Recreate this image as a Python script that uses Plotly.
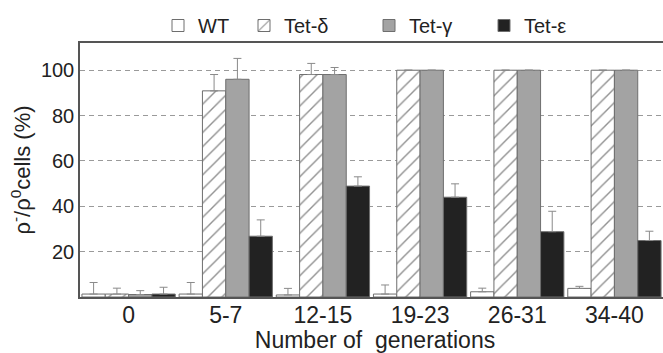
import plotly.graph_objects as go

categories = ["0", "5-7", "12-15", "19-23", "26-31", "34-40"]

wt = [1.3, 1.3, 0.9, 1.3, 2.3, 3.8]
wt_err = [5.1, 5.1, 2.9, 4.0, 1.6, 0.9]

tet_d = [1.3, 90.9, 98.1, 100, 100, 100]
tet_d_err = [2.6, 7.2, 4.9, None, None, None]

tet_g = [1.1, 96.0, 98.1, 100, 100, 100]
tet_g_err = [1.7, 9.2, 3.1, None, None, None]

tet_e = [1.3, 26.8, 48.9, 44.0, 28.8, 24.9]
tet_e_err = [3.0, 7.2, 4.1, 5.9, 9.0, 4.1]

series_names = ["WT", "Tet-δ", "Tet-γ", "Tet-ε"]
y_ticks = [20, 40, 60, 80, 100]

FONT = "Arial, Liberation Sans, sans-serif"
TXT = "#222222"
OUTLINE = "#6e6e6e"
ERRC = "#8a8a8a"

# figure is slightly wider than the 663px window so the plot's right edge
# (which is cut off in the reference) falls outside the view
W, H = 670, 353
ML, MR, MT, MB = 80, 0, 43, 56
PW = W - ML - MR
PH = H - MT - MB
CAT_PX = 583 / 6.0  # pixel width of one category slot
X_MAX = -0.5 + PW / CAT_PX


def err(arr):
    return dict(type="data", symmetric=False, array=arr,
                arrayminus=[0 if v is not None else None for v in arr],
                color=ERRC, thickness=1, width=4)


fig = go.Figure()
fig.add_trace(go.Bar(x=categories, y=wt, name=series_names[0], legend="legend",
                     showlegend=True,
                     marker=dict(color="white", line=dict(color=OUTLINE, width=1)),
                     error_y=err(wt_err)))
fig.add_trace(go.Bar(x=categories, y=tet_d, name=series_names[1], legend="legend2",
                     showlegend=True,
                     marker=dict(color="white", line=dict(color=OUTLINE, width=1),
                                 pattern=dict(shape="/", size=10, solidity=0.14,
                                              fgcolor="#222222", bgcolor="white",
                                              fillmode="overlay")),
                     error_y=err(tet_d_err)))
fig.add_trace(go.Bar(x=categories, y=tet_g, name=series_names[2], legend="legend3",
                     showlegend=True,
                     marker=dict(color="#a3a3a3", line=dict(color=OUTLINE, width=1)),
                     error_y=err(tet_g_err)))
fig.add_trace(go.Bar(x=categories, y=tet_e, name=series_names[3], legend="legend4",
                     showlegend=True,
                     marker=dict(color="#222222", line=dict(color=OUTLINE, width=1)),
                     error_y=err(tet_e_err)))


def px_to_paper_x(px):
    return (px - ML) / PW


def px_to_paper_y(py):
    return (H - MB - py) / PH


leg_y = px_to_paper_y(25.5)
leg_common = dict(orientation="h", yanchor="middle", xanchor="left", y=leg_y,
                  font=dict(family=FONT, size=20, color=TXT),
                  bgcolor="rgba(0,0,0,0)", borderwidth=0)

fig.update_layout(
    width=W, height=H,
    margin=dict(l=ML, r=MR, t=MT, b=MB, autoexpand=False),
    paper_bgcolor="white", plot_bgcolor="white",
    barmode="group", bargap=0.04, bargroupgap=0,
    showlegend=True,
    font=dict(family=FONT, color=TXT),
    legend=dict(x=px_to_paper_x(158), **leg_common),
    legend2=dict(x=px_to_paper_x(244), **leg_common),
    legend3=dict(x=px_to_paper_x(369), **leg_common),
    legend4=dict(x=px_to_paper_x(484), **leg_common),
)

fig.update_xaxes(
    range=[-0.5, X_MAX], showline=True, linecolor="#555555", linewidth=1.5,
    mirror=True, ticks="", showgrid=False, zeroline=False,
    ticklabelstandoff=-3,
    tickfont=dict(family=FONT, size=23, color=TXT),
    title=dict(text="Number of\u00a0\u00a0generations", standoff=3,
               font=dict(family=FONT, size=23, color=TXT)),
)
fig.update_yaxes(
    range=[0, 112], showline=True, linecolor="#555555", linewidth=1.5,
    mirror=False, ticks="", tickvals=y_ticks, zeroline=False,
    showgrid=True, gridcolor="#9a9a9a", gridwidth=1, griddash="5px,4px",
    tickfont=dict(family=FONT, size=20, color=TXT),
    title=dict(text="ρ<sup>-</sup>/ρ<sup>0</sup>cells (%)", standoff=4,
               font=dict(family=FONT, size=22, color=TXT)),
)

fig.write_html("out.html", config={"displayModeBar": False},
               post_script=("document.body.style.margin='0';"
                            "document.body.style.padding='0';"
                            "document.body.style.overflow='hidden';"
                            "document.documentElement.style.overflow='hidden';"))
